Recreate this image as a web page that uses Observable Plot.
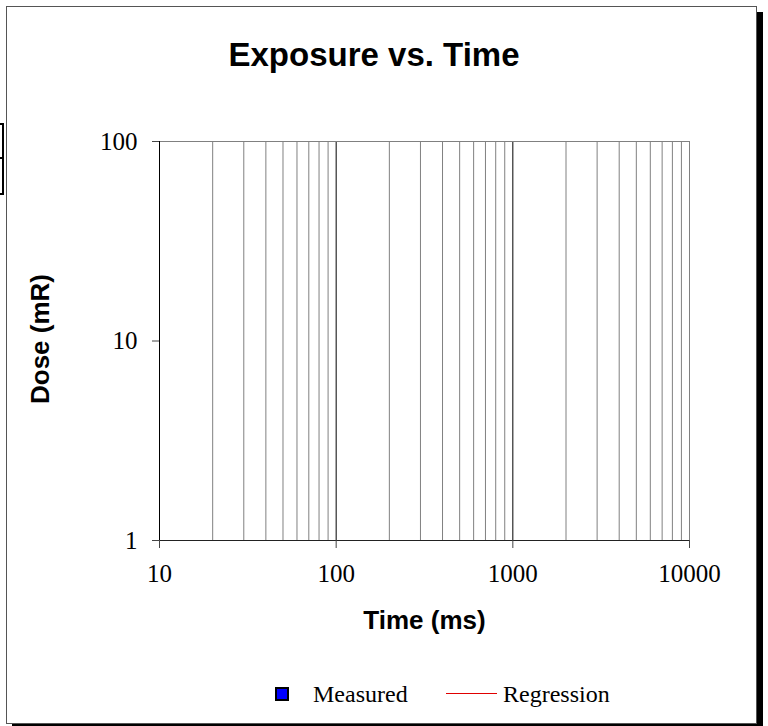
<!DOCTYPE html>
<html>
<head>
<meta charset="utf-8">
<script src="https://cdn.jsdelivr.net/npm/d3@7"></script>
<script src="https://cdn.jsdelivr.net/npm/@observablehq/plot@0.6"></script>
<style>
  html, body { margin: 0; padding: 0; background: #fff; }
  #wrap { position: relative; width: 768px; height: 726px; overflow: hidden; }
  #wrap svg { position: absolute; left: 0; top: 0; }
  .frame { position: absolute; left: 6px; top: 6px; width: 751px; height: 718px; box-sizing: border-box;
           border: 1px solid #555; box-shadow: 6px 6px 0 #000; pointer-events: none; }
  .stub { position: absolute; left: -3px; top: 123px; width: 7px; height: 72px; box-sizing: border-box; border: 2px solid #000; }
  .stub2 { position: absolute; left: 0; top: 157px; width: 4px; height: 2px; background: #000; }
  .title { position: absolute; top: 36px; left: 374px; transform: translateX(-50%); white-space: nowrap;
           font: bold 33px "Liberation Sans", Arial, sans-serif; color: #000; }
  .leg { position: absolute; top: 681px; font: 24px "Liberation Serif", "Times New Roman", serif; color: #000; white-space: nowrap; }
  .sw { position: absolute; left: 275px; top: 687px; width: 14px; height: 14px; box-sizing: border-box; background: #0000ff; border: 2px solid #000; }
  .ln { position: absolute; left: 446px; top: 693px; width: 51px; height: 1px; background: #e00000; }
</style>
</head>
<body>
<div id="wrap"></div>
<script>
// ---- data ----
const title = "Exposure vs. Time";
const xLabel = "Time (ms)";
const yLabel = "Dose (mR)";
const xTicks = [10, 100, 1000, 10000];
const yTicks = [1, 10, 100];
const xMinorGrid = [20, 30, 40, 50, 60, 70, 80, 90, 200, 300, 400, 500, 600, 700, 800, 900, 2000, 3000, 4000, 5000, 6000, 7000, 8000, 9000];
const xMajorGrid = [100, 1000];
const seriesNames = ["Measured", "Regression"];
// the reference chart shows no plotted values
const measuredTime = [];
const measuredDose = [];
const regressionTime = [];
const regressionDose = [];

const measured = measuredTime.map((t, i) => ({time: t, dose: measuredDose[i]}));
const regression = regressionTime.map((t, i) => ({time: t, dose: regressionDose[i]}));

const serif = "Liberation Serif, Times New Roman, serif";
const sans = "Liberation Sans, Arial, sans-serif";

const chart = Plot.plot({
  width: 768,
  height: 726,
  marginLeft: 159,
  marginRight: 79,
  marginTop: 141,
  marginBottom: 186,
  style: {background: "transparent", overflow: "visible"},
  x: {type: "log", domain: [10, 10000]},
  y: {type: "log", domain: [1, 100]},
  marks: [
    Plot.ruleX(xMinorGrid, {stroke: "#808080", strokeWidth: 1}),
    Plot.ruleX(xMajorGrid, {stroke: "#000", strokeWidth: 1}),
    Plot.ruleY([yTicks[yTicks.length - 1]], {stroke: "#808080"}),
    Plot.ruleX([xTicks[xTicks.length - 1]], {stroke: "#808080"}),
    Plot.ruleX([xTicks[0]], {stroke: "#000"}),
    Plot.ruleY([yTicks[0]], {stroke: "#222"}),
    Plot.axisX({ticks: xTicks, tickSize: 8, tickPadding: 16, tickFormat: d => String(d), label: null,
                fontSize: 25, fontFamily: serif, fill: "#000", stroke: "#444"}),
    Plot.axisY({ticks: yTicks, tickSize: 7, tickPadding: 15, tickFormat: d => String(d), label: null,
                fontSize: 25, fontFamily: serif, fill: "#000", stroke: "#444"}),
    Plot.line(regression, {x: "time", y: "dose", stroke: "#e00000"}),
    Plot.dot(measured, {x: "time", y: "dose", symbol: "square", fill: "#0000ff", stroke: "#000", r: 5}),
    Plot.text([xLabel], {text: d => d, frameAnchor: "bottom", textAnchor: "middle", lineAnchor: "middle", dy: 80,
                         fontSize: 26, fontWeight: "bold", fontFamily: sans, fill: "#000"}),
    Plot.text([yLabel], {text: d => d, frameAnchor: "left", textAnchor: "middle", lineAnchor: "middle", dx: -119, dy: -2, rotate: -90,
                         fontSize: 26, fontWeight: "bold", fontFamily: sans, fill: "#000"})
  ]
});

const wrap = document.getElementById("wrap");
wrap.appendChild(chart);

function add(cls, text, left) {
  const d = document.createElement("div");
  d.className = cls;
  if (text) d.textContent = text;
  if (left != null) d.style.left = left + "px";
  wrap.appendChild(d);
}
add("title", title);
add("sw");
add("leg", seriesNames[0], 313);
add("ln");
add("leg", seriesNames[1], 503);
add("frame");
add("stub");
add("stub2");
</script>
</body>
</html>
